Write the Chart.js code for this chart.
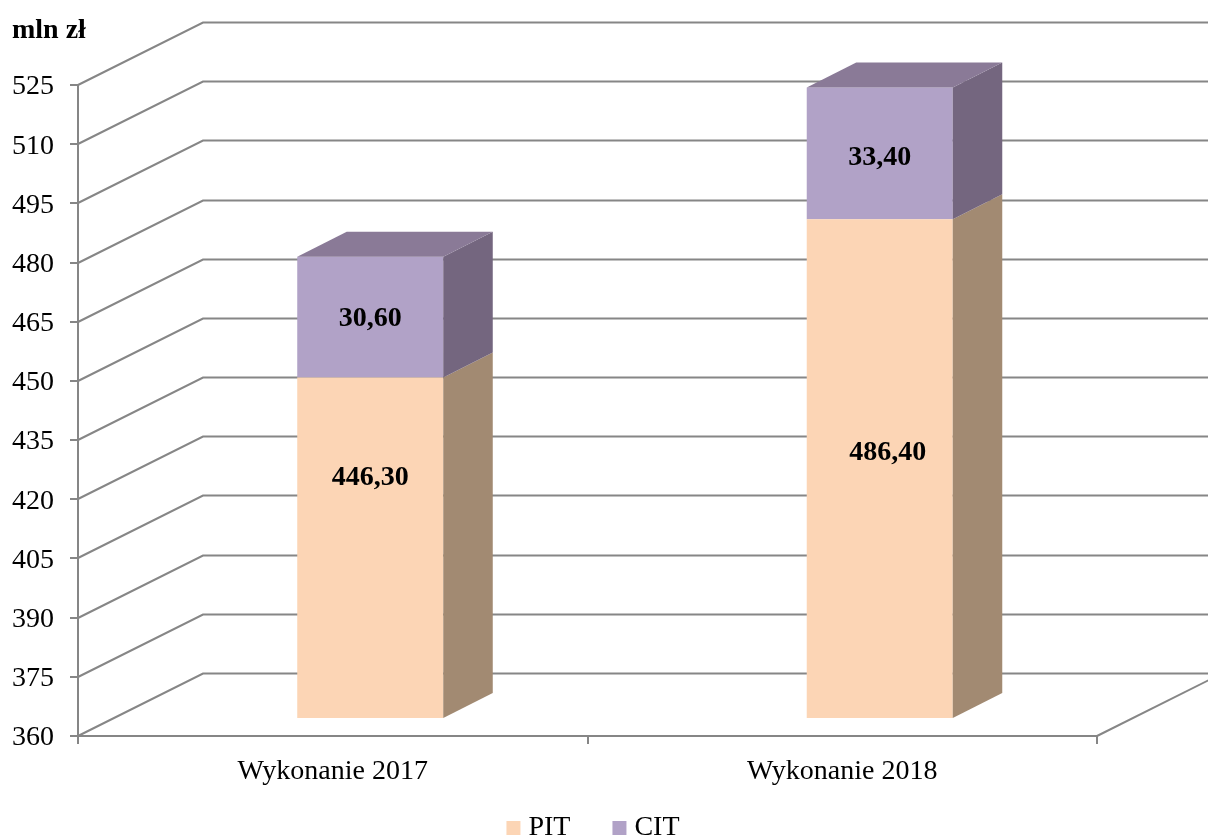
<!DOCTYPE html>
<html>
<head>
<meta charset="utf-8">
<style>
  html, body { margin: 0; padding: 0; background: #fff; }
  canvas { display: block; }
</style>
<script src="https://cdn.jsdelivr.net/npm/chart.js@4"></script>
</head>
<body>
<canvas id="taxChart" width="1208" height="837"></canvas>
<script>
// ================= DATA =================
const categories = ["Wykonanie 2017", "Wykonanie 2018"];
const pitValues = [446.3, 486.4];
const citValues = [30.6, 33.4];

// ================= 3D LOOK =================
const FONT = "'Liberation Serif'";
const LINE = "#868686";
const WALL = { dx: 125, dy: -62.5 };   // axis front -> back wall
const BAR_SHIFT = { dx: 37.5, dy: -18 }; // bar front sits inside the floor
const BAR_DEPTH = { dx: 49.5, dy: -25 };
const FACES = [
  { side: "#a28a72", top: "#a28a72" },
  { side: "#74667f", top: "#8a7a97" }
];
// PIT labels are not centred on the bar in the original
const labelShift = [[[0, -70], [8, -16]], [[0, 2], [0, 4]]];

const fmt = v => v.toFixed(2).replace(".", ",");

function poly(ctx, pts, color) {
  ctx.fillStyle = color;
  ctx.beginPath();
  pts.forEach((p, i) => (i ? ctx.lineTo(p[0], p[1]) : ctx.moveTo(p[0], p[1])));
  ctx.closePath();
  ctx.fill();
}

const box3d = {
  id: "box3d",
  afterLayout(chart) {
    // legend is placed by hand, its item gap forces a big padding
    chart.legend.top = 766;
    chart.legend.left = 0;
    chart.legend.right = 1192;
  },
  beforeDatasetsDraw(chart) {
    const { ctx, scales: { x, y } } = chart;
    ctx.save();
    ctx.strokeStyle = LINE;
    ctx.lineWidth = 2;
    y.ticks.forEach(t => {
      const py = Math.round(y.getPixelForValue(t.value));
      ctx.beginPath();
      ctx.moveTo(x.left, py);
      ctx.lineTo(x.left + WALL.dx, py + WALL.dy);
      ctx.lineTo(chart.width, py + WALL.dy);
      ctx.stroke();
    });
    ctx.beginPath();
    ctx.moveTo(x.right, y.bottom);
    ctx.lineTo(x.right + WALL.dx, y.bottom + WALL.dy);
    ctx.stroke();
    ctx.restore();

    ctx.save();
    ctx.translate(BAR_SHIFT.dx, BAR_SHIFT.dy);
  },
  afterDatasetsDraw(chart) {
    const { ctx, scales: { y } } = chart;
    const d = BAR_DEPTH;
    const last = chart.data.datasets.length - 1;

    chart.data.datasets.forEach((ds, i) => {
      chart.getDatasetMeta(i).data.forEach(bar => {
        const p = bar.getProps(["x", "y", "base", "width"], true);
        const l = p.x - p.width / 2;
        const r = p.x + p.width / 2;
        const b = Math.min(p.base, y.bottom);
        poly(ctx, [[r, p.y], [r + d.dx, p.y + d.dy], [r + d.dx, b + d.dy], [r, b]], FACES[i].side);
        if (i === last) {
          poly(ctx, [[l, p.y], [l + d.dx, p.y + d.dy], [r + d.dx, p.y + d.dy], [r, p.y]], FACES[i].top);
        }
      });
    });

    ctx.fillStyle = "#000";
    ctx.font = "bold 28px " + FONT;
    ctx.textAlign = "center";
    ctx.textBaseline = "middle";
    chart.data.datasets.forEach((ds, i) => {
      chart.getDatasetMeta(i).data.forEach((bar, j) => {
        const p = bar.getProps(["x", "y", "base"], true);
        const b = Math.min(p.base, y.bottom);
        const s = labelShift[i][j];
        ctx.fillText(fmt(ds.data[j]), p.x + s[0], (p.y + b) / 2 + s[1]);
      });
    });
    ctx.restore();

    ctx.save();
    ctx.fillStyle = "#000";
    ctx.font = "bold 28px " + FONT;
    ctx.textBaseline = "middle";
    ctx.fillText("mln zł", 12, 31);
    ctx.restore();
  }
};

// ================= CHART =================
function loadTaxChart() {
  const ctx = document.getElementById("taxChart");
  new Chart(ctx, {
    type: "bar",
    data: {
      labels: categories,
      datasets: [
        { label: "PIT", data: pitValues, backgroundColor: "#fcd5b5", borderWidth: 0 },
        { label: "CIT", data: citValues, backgroundColor: "#b1a2c7", borderWidth: 0 }
      ]
    },
    options: {
      responsive: false,
      animation: false,
      layout: { padding: { top: 85, right: 111, left: 0, bottom: -45 } },
      categoryPercentage: 1,
      barPercentage: 0.2866,
      scales: {
        x: {
          stacked: true,
          afterFit: s => { s.height = 60; },
          grid: { drawOnChartArea: false, color: LINE, lineWidth: 2, tickLength: 8 },
          border: { color: LINE, width: 2 },
          ticks: { color: "#000", font: { family: FONT, size: 28 }, padding: 11, maxRotation: 0 }
        },
        y: {
          stacked: true,
          min: 360,
          max: 525,
          afterFit: s => { s.width = 78; },
          grid: { drawOnChartArea: false, color: LINE, lineWidth: 2, tickLength: 8 },
          border: { color: LINE, width: 2 },
          ticks: { stepSize: 15, color: "#000", font: { family: FONT, size: 28 }, padding: 16, labelOffset: 2 }
        }
      },
      plugins: {
        tooltip: { enabled: false },
        legend: {
          position: "bottom",
          labels: {
            color: "#000",
            font: { family: FONT, size: 28 },
            usePointStyle: true,
            pointStyle: "rect",
            boxWidth: 2,
            boxHeight: 14,
            padding: 48
          }
        }
      }
    },
    plugins: [box3d]
  });
}

window.onload = loadTaxChart;
</script>
</body>
</html>
